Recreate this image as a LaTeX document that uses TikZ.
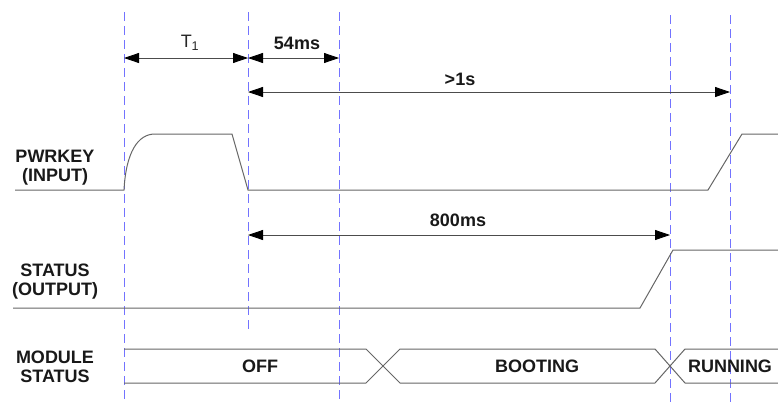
\documentclass[tikz,border=0pt]{standalone}
\usepackage{fontspec}
\setmainfont{Liberation Sans}
\usetikzlibrary{arrows.meta}
\begin{document}
\begin{tikzpicture}[x=1pt,y=-1pt,
  guide/.style={draw=blue!55!white, dash pattern=on 9pt off 5pt, line width=0.9pt},
  sig/.style={draw=black!60, line width=1pt},
  dimarrow/.style={draw=black!70, line width=0.8pt, {Triangle[length=15pt,width=10pt,color=black]}-{Triangle[length=15pt,width=10pt,color=black]}},
  lbl/.style={font=\fontsize{18}{19}\selectfont\bfseries, align=center, inner sep=0pt, text=black!90},
  plain/.style={font=\fontsize{18}{19}\selectfont, inner sep=0pt, text=black!85},
]
\useasboundingbox (0,0) rectangle (778,402);

% guide lines
\coordinate (g1t) at (124,12);  \coordinate (g1b) at (124,402);
\coordinate (g2t) at (248,12);  \coordinate (g2b) at (248,330);
\coordinate (g3t) at (339,12);  \coordinate (g3b) at (339,402);
\coordinate (g4t) at (670,15);  \coordinate (g4b) at (670,402);
\coordinate (g5t) at (730,15);  \coordinate (g5b) at (730,402);
\draw[guide] (g1t) -- (g1b);
\draw[guide] (g2t) -- (g2b);
\draw[guide] (g3t) -- (g3b);
\draw[guide] (g4t) -- (g4b);
\draw[guide] (g5t) -- (g5b);

% dimension arrows
\coordinate (t1a) at (124,58);  \coordinate (t1b) at (248,58);
\coordinate (msa) at (248,58);  \coordinate (msb) at (339,58);
\coordinate (sa)  at (248,92);  \coordinate (sb)  at (730,92);
\coordinate (ea)  at (248,235); \coordinate (eb)  at (670,235);
\draw[dimarrow] (t1a) -- (t1b);
\draw[dimarrow] (msa) -- (msb);
\draw[dimarrow] (sa) -- (sb);
\draw[dimarrow] (ea) -- (eb);

\node[plain] (lT1) at (190,43) {T\textsubscript{1}};
\node[lbl] (l54) at (297,43) {54ms};
\node[lbl] (l1s) at (460,79) {>1s};
\node[lbl] (l800) at (458,220) {800ms};

% PWRKEY signal
\draw[sig] (15,190) -- (124,190) .. controls (126,152) and (138,134) .. (155,134)
  -- (232,134) -- (248,190) -- (708,190) -- (742,134) -- (778,134);

% STATUS signal
\draw[sig] (13,308) -- (640,308) -- (673,250) -- (778,250);

% module status bus
\draw[sig] (124,349) -- (366,349) -- (383,366) -- (366,383) -- (124,383);
\draw[sig] (383,366) -- (400,349) -- (655,349) -- (670,366) -- (655,383) -- (400,383) -- cycle;
\draw[sig] (778,349) -- (685,349) -- (670,366) -- (685,383) -- (778,383);

\node[lbl] (off) at (260,366) {OFF};
\node[lbl] (boot) at (537,366) {BOOTING};
\node[lbl] (run) at (730,366) {RUNNING};

% left labels
\node[lbl] (pwr) at (55,168) {PWRKEY\\(INPUT)};
\node[lbl] (stat) at (55,282) {STATUS\\(OUTPUT)};
\node[lbl] (mod) at (55,367) {MODULE\\STATUS};
\end{tikzpicture}
\end{document}
